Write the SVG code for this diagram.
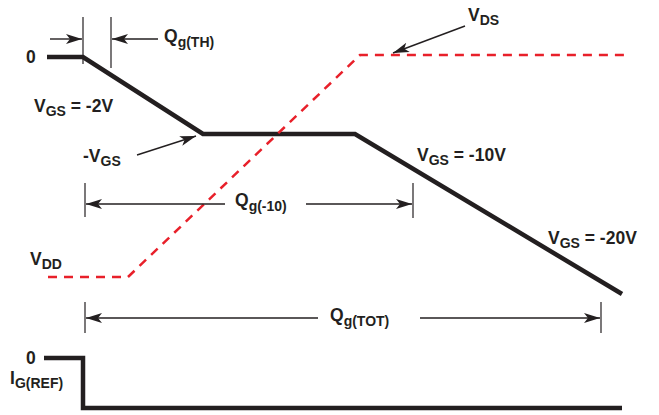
<svg xmlns="http://www.w3.org/2000/svg" width="659" height="415" viewBox="0 0 659 415">
<style>
.t{font-family:"Liberation Sans",Arial,sans-serif;font-weight:bold;font-size:17.5px;fill:#231f20}
.s{font-size:14px}
.thick{fill:none;stroke:#231f20;stroke-width:4.5;stroke-linejoin:miter}
.red{fill:none;stroke:#e8202a;stroke-width:2.5;stroke-dasharray:9 7}
.thin{fill:none;stroke:#231f20;stroke-width:1.2}
.arr{fill:none;stroke:#231f20;stroke-width:1.4;marker-end:url(#ah)}
</style>
<defs>
<marker id="ah" markerUnits="userSpaceOnUse" markerWidth="20" markerHeight="12" refX="16" refY="5" orient="auto">
<path d="M0,0 L16,5 L0,10 L4,5 Z" fill="#231f20"/>
</marker>
</defs>
<rect width="659" height="415" fill="#fff"/>
<g id="vgs-curve"><path class="thick" d="M47,57 L83,57 L203,134 L355,134 L622,294"/></g>
<g id="vds-curve"><path class="red" d="M48,277 L128,277 L360,55 L626,55"/></g>
<g id="ig-curve"><path class="thick" d="M44,358 L83,358 L83,408 L622,408"/></g>
<g id="connectors">
<line class="thin" x1="83" y1="17" x2="83" y2="64"/>
<line class="thin" x1="111" y1="17" x2="111" y2="68"/>
<line class="arr" x1="50" y1="39" x2="82" y2="39"/>
<line class="arr" x1="158" y1="39" x2="112" y2="39"/>
<line class="arr" x1="465" y1="26" x2="393" y2="53"/>
<line class="arr" x1="137" y1="155" x2="196" y2="136"/>
<line class="thin" x1="85" y1="183" x2="85" y2="217"/>
<line class="thin" x1="413" y1="183" x2="413" y2="218"/>
<line class="arr" x1="225" y1="204" x2="86" y2="204"/>
<line class="arr" x1="306" y1="204" x2="412" y2="204"/>
<line class="thin" x1="85" y1="302" x2="85" y2="333"/>
<line class="thin" x1="601" y1="302" x2="601" y2="333"/>
<line class="arr" x1="318" y1="318" x2="86" y2="318"/>
<line class="arr" x1="420" y1="318" x2="600" y2="318"/>
</g>
<g id="labels">
<text class="t" x="26" y="63">0</text>
<text class="t" x="164" y="42">Q<tspan class="s" dy="5">g(TH)</tspan></text>
<text class="t" x="34" y="112">V<tspan class="s" dy="4">GS</tspan><tspan dy="-4"> = -2V</tspan></text>
<text class="t" x="468" y="21">V<tspan class="s" dy="4">DS</tspan></text>
<text class="t" x="83" y="162">-V<tspan class="s" dy="4">GS</tspan></text>
<text class="t" x="235" y="206">Q<tspan class="s" dy="5">g(-10)</tspan></text>
<text class="t" x="417" y="161">V<tspan class="s" dy="4">GS</tspan><tspan dy="-4"> = -10V</tspan></text>
<text class="t" x="548" y="244">V<tspan class="s" dy="4">GS</tspan><tspan dy="-4"> = -20V</tspan></text>
<text class="t" x="30" y="265">V<tspan class="s" dy="4">DD</tspan></text>
<text class="t" x="330" y="321">Q<tspan class="s" dy="5">g(TOT)</tspan></text>
<text class="t" x="26" y="364">0</text>
<text class="t" x="10" y="384">I<tspan class="s" dy="4">G(REF)</tspan></text>
</g>
</svg>
